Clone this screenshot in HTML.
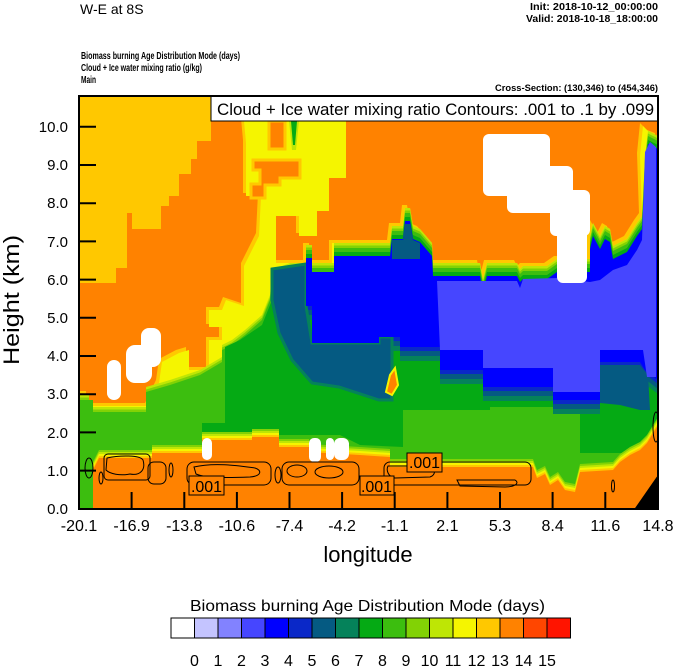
<!DOCTYPE html>
<html><head><meta charset="utf-8"><style>
html,body{margin:0;padding:0;background:#fff;}
svg{display:block;font-family:"Liberation Sans",sans-serif;}
</style></head><body>
<svg width="674" height="667" viewBox="0 0 674 667" xmlns="http://www.w3.org/2000/svg">
<defs>
<clipPath id="pc"><rect x="79" y="96" width="579" height="413"/></clipPath>
<polygon id="p12" points="79,394 89,394 89,406 148,406 159,383 162,362 179,353 189,350 189,370 209,370 209,340 222,340 222,327 209,327 209,310 222,310 226,300 244,306 244,266 259,236 261,196 246,196 246,143 244,121 346,121 346,178 329,178 329,211 317,211 317,236 299,236 299,216 276,216 276,263 306,263 306,246 312,246 312,263 332,263 332,243 390,243 392,226 403,226 405,208 410,208 413,226 420,229 432,243 433,263 480,263 483,279 487,263 517,263 520,269 523,266 547,266 557,259 590,259 590,236 593,223 600,236 605,226 610,229 613,246 627,239 637,223 642,216 640,156 643,126 650,133 658,136 658,509 79,509"/>
<polygon id="p9" points="79,400 89,400 89,412 146,412 146,392 170,385 200,375 222,362 222,350 232,345 245,335 262,320 270,300 272,275 290,268 306,268 306,250 312,250 312,268 334,268 334,248 390,248 392,231 403,231 405,213 410,213 413,231 420,234 432,248 433,268 480,268 483,284 487,268 517,268 520,274 523,271 547,271 557,264 590,264 590,241 593,228 600,241 605,231 610,234 613,251 627,244 637,228 642,221 645,161 648,136 658,141 658,509 79,509"/>
<polygon id="p4" points="306,258 312,258 312,272 334,272 334,256 390,256 392,239 403,239 405,221 410,221 413,239 420,242 432,256 433,276 480,276 483,292 487,276 517,276 520,282 523,279 547,279 557,272 590,272 590,249 593,236 600,249 605,239 610,242 613,259 627,252 637,236 642,229 645,169 648,144 658,149 658,380 645,370 640,362 600,362 600,400 553,400 553,387 483,387 483,370 440,370 440,347 400,347 400,337 379,337 379,343 312,343 312,306 306,306"/>
<polygon id="pb" points="93,520 93,470 99,458 152,458 152,453 202,453 202,440 252,440 252,437 279,437 279,447 309,447 309,452 360,455 390,457 390,467 533,467 537,478 545,474 550,485 558,480 565,490 575,492 580,472 613,470 620,462 630,455 640,450 647,443 655,430 658,425 670,425 670,520"/>
</defs>
<g clip-path="url(#pc)">
<rect x="79" y="96" width="579" height="413" fill="#ff8200"/>
<polygon fill="#ffc800" points="79,96 211,96 211,141 197,141 197,159 191,159 191,174 179,174 179,196 169,196 169,206 161,206 161,229 132,229 132,213 127,213 127,268 116,268 116,283 79,283"/>
<use href="#p12" fill="#ffc800" transform="translate(-3,-3)"/>
<use href="#p12" fill="#f5f500"/>
<polygon fill="#ff8200" stroke="#ffc800" stroke-width="3" points="269,121 285,121 285,149 269,149"/>
<polygon fill="#ff8200" stroke="#ffc800" stroke-width="3" points="253,160 300,160 300,178 280,178 280,185 265,185 265,198 251,198 251,184 260,184 260,170 253,170"/>
<polygon fill="#bee605" points="289,121 299,121 296,150 292,150"/>
<polygon fill="#05aa14" points="291,121 297,121 295,145 293,145"/>
<use href="#p9" fill="#bee605" transform="translate(0,-5)"/>
<use href="#p9" fill="#82d205" transform="translate(0,-2.5)"/>
<use href="#p9" fill="#3cbe0f"/>
<polygon fill="#05aa14" points="225,347 240,340 262,325 272,300 272,279 290,272 306,272 306,254 312,254 312,272 334,272 334,252 390,252 392,235 403,235 405,217 410,217 413,235 420,238 432,252 433,272 480,272 483,288 487,272 517,272 520,278 523,275 547,275 557,268 590,268 590,245 593,232 600,245 605,235 610,238 613,255 627,248 637,232 642,225 645,165 648,140 658,145 658,443 640,453 580,453 580,407 490,407 490,410 403,410 403,447 360,445 340,435 279,435 252,440 202,440 202,423 225,423"/>
<use href="#p4" fill="#05825a" transform="translate(0,14)"/>
<use href="#p4" fill="#055a82" transform="translate(0,9)"/>
<use href="#p4" fill="#0a28c8" transform="translate(0,4)"/>
<polygon fill="#055a82" stroke="#05825a" stroke-width="3" points="272,269 306,264 306,306 312,343 379,343 379,337 392,337 392,400 379,400 339,387 312,383 292,360 279,333 272,300"/>
<use href="#p4" fill="#0000ff"/>
<polygon fill="#055a82" points="392,240 403,240 405,224 410,224 413,240 420,243 420,259 392,259"/>
<polygon fill="#055a82" points="600,365 640,365 648,375 650,410 640,410 620,405 600,403"/>
<polygon fill="#4646ff" points="437,281 517,281 520,288 523,279 557,278 590,282 600,280 613,270 627,265 637,250 642,240 645,152 650,142 656,147 656,377 647,377 643,350 600,350 600,392 553,392 553,368 483,368 483,350 440,350"/>
<polygon fill="#ff8200" stroke="#f5f500" stroke-width="2" points="390,375 395,368 398,385 392,395 386,392"/>
<use href="#pb" fill="#82d205" transform="translate(0,-8)"/>
<use href="#pb" fill="#bee605" transform="translate(0,-6)"/>
<use href="#pb" fill="#f5f500" transform="translate(0,-4)"/>
<use href="#pb" fill="#ffc800" transform="translate(0,-2)"/>
<use href="#pb" fill="#ff8200"/>
<polygon fill="#3cbe0f" points="79,400 93,400 93,520 79,520"/>
<g fill="#fff">
<rect x="107" y="360" width="14" height="40" rx="7"/>
<rect x="126" y="345" width="26" height="38" rx="9"/>
<rect x="141" y="328" width="20" height="39" rx="8"/>
<rect x="202" y="438" width="10" height="22" rx="5"/>
<rect x="309" y="438" width="12" height="24" rx="5"/>
<rect x="326" y="438" width="8" height="22" rx="4"/>
<rect x="334" y="438" width="15" height="22" rx="6"/>
<rect x="483" y="134" width="67" height="62" rx="6"/>
<rect x="507" y="166" width="66" height="47" rx="6"/>
<rect x="550" y="190" width="40" height="46" rx="6"/>
<rect x="557" y="225" width="30" height="58" rx="6"/>
</g>
<polygon fill="#000" points="633,511 658,475 658,511"/>
<g fill="none" stroke="#000" stroke-width="1">
<rect x="104" y="454" width="46" height="26" rx="4"/>
<path d="M107,458 C120,455 140,455 143,460 C146,470 140,476 130,474 C120,476 110,474 106,470 Z"/>
<rect x="148" y="462" width="18" height="22" rx="6"/>
<ellipse cx="171" cy="470" rx="2" ry="7"/>
<rect x="187" y="462" width="84" height="23" rx="7"/>
<path d="M194,467 C215,462 240,466 255,468 C262,470 262,476 250,477 C225,478 205,478 196,474 Z"/>
<ellipse cx="278" cy="475" rx="3" ry="8"/>
<rect x="282" y="462" width="77" height="23" rx="7"/>
<ellipse cx="297" cy="471" rx="10" ry="6"/>
<ellipse cx="329" cy="472" rx="14" ry="6"/>
<rect x="384" y="462" width="147" height="23" rx="6"/>
<path d="M388,466 L430,466 C436,468 436,475 430,477 L395,478 C388,477 386,470 388,466 Z"/>
<path d="M457,480 L515,480 C520,483 515,487 505,487 L460,486 Z"/>
<ellipse cx="101" cy="478" rx="2" ry="6"/>
<ellipse cx="89" cy="468" rx="4" ry="10"/>
<ellipse cx="613" cy="486" rx="1.5" ry="6"/>
<ellipse cx="656" cy="427" rx="3" ry="15"/>
</g>
<g fill="#ff8200" stroke="#000" stroke-width="1">
<rect x="189" y="476" width="35" height="19"/>
<rect x="360" y="476" width="34" height="19"/>
<rect x="407" y="453" width="35" height="19"/>
</g>
<g font-size="16" fill="#000">
<text x="191" y="492" textLength="31">.001</text>
<text x="361" y="492" textLength="31">.001</text>
<text x="409" y="468" textLength="31">.001</text>
</g>
<g stroke="#000" stroke-width="2">
<line x1="79" y1="126.8" x2="96" y2="126.8"/><line x1="79" y1="165" x2="96" y2="165"/>
<line x1="79" y1="203.2" x2="96" y2="203.2"/><line x1="79" y1="241.4" x2="96" y2="241.4"/>
<line x1="79" y1="279.6" x2="96" y2="279.6"/><line x1="79" y1="317.8" x2="96" y2="317.8"/>
<line x1="79" y1="356" x2="96" y2="356"/><line x1="79" y1="394.2" x2="96" y2="394.2"/>
<line x1="79" y1="432.4" x2="96" y2="432.4"/><line x1="79" y1="470.6" x2="96" y2="470.6"/>
<line x1="131.6" y1="509" x2="131.6" y2="492"/><line x1="184.3" y1="509" x2="184.3" y2="492"/>
<line x1="236.9" y1="509" x2="236.9" y2="492"/><line x1="289.5" y1="509" x2="289.5" y2="492"/>
<line x1="342.1" y1="509" x2="342.1" y2="492"/><line x1="394.7" y1="509" x2="394.7" y2="492"/>
<line x1="447.4" y1="509" x2="447.4" y2="492"/><line x1="500" y1="509" x2="500" y2="492"/>
<line x1="552.6" y1="509" x2="552.6" y2="492"/><line x1="605.3" y1="509" x2="605.3" y2="492"/>
</g>
</g>
<rect x="211" y="96" width="447" height="25" fill="#fff" stroke="#000" stroke-width="1"/>
<text x="217" y="115" font-size="17" textLength="437" lengthAdjust="spacingAndGlyphs">Cloud + Ice water mixing ratio Contours: .001 to .1 by .099</text>
<rect x="79" y="96" width="579" height="413" fill="none" stroke="#000" stroke-width="2"/>
<text x="80" y="14" font-size="14">W-E at 8S</text>
<g font-size="10" font-weight="bold" text-anchor="end">
<text x="658" y="10" textLength="128" lengthAdjust="spacingAndGlyphs">Init: 2018-10-12_00:00:00</text>
<text x="658" y="22" textLength="132" lengthAdjust="spacingAndGlyphs">Valid: 2018-10-18_18:00:00</text>
<text x="658" y="91" font-size="9" textLength="163" lengthAdjust="spacingAndGlyphs">Cross-Section: (130,346) to (454,346)</text>
</g>
<g font-size="10" font-weight="bold">
<text x="81" y="59" textLength="159" lengthAdjust="spacingAndGlyphs">Biomass burning Age Distribution Mode   (days)</text>
<text x="81" y="71" textLength="121" lengthAdjust="spacingAndGlyphs">Cloud + Ice water mixing ratio   (g/kg)</text>
<text x="81" y="83" textLength="15" lengthAdjust="spacingAndGlyphs">Main</text>
</g>
<g font-size="15" text-anchor="end">
<text x="68" y="132">10.0</text><text x="68" y="170">9.0</text><text x="68" y="208">8.0</text>
<text x="68" y="247">7.0</text><text x="68" y="285">6.0</text><text x="68" y="323">5.0</text>
<text x="68" y="361">4.0</text><text x="68" y="399">3.0</text><text x="68" y="438">2.0</text>
<text x="68" y="476">1.0</text><text x="68" y="514">0.0</text>
</g>
<text transform="translate(19,300) rotate(-90)" font-size="22" text-anchor="middle" textLength="130" lengthAdjust="spacingAndGlyphs">Height (km)</text>
<g font-size="16" text-anchor="middle">
<text x="79" y="531">-20.1</text><text x="131.6" y="531">-16.9</text><text x="184.3" y="531">-13.8</text>
<text x="236.9" y="531">-10.6</text><text x="289.5" y="531">-7.4</text><text x="342.1" y="531">-4.2</text>
<text x="394.7" y="531">-1.1</text><text x="447.4" y="531">2.1</text><text x="500" y="531">5.3</text>
<text x="552.6" y="531">8.4</text><text x="605.3" y="531">11.6</text><text x="658" y="531">14.8</text>
</g>
<text x="368" y="562" font-size="22" text-anchor="middle">longitude</text>
<text x="190" y="611" font-size="16" textLength="355" lengthAdjust="spacingAndGlyphs">Biomass burning Age Distribution Mode  (days)</text>
<g stroke="#000" stroke-width="1">
<rect x="171" y="618" width="23.5" height="20" fill="#ffffff"/>
<rect x="194.5" y="618" width="23.5" height="20" fill="#c4c4ff"/>
<rect x="218" y="618" width="23.5" height="20" fill="#8282ff"/>
<rect x="241.5" y="618" width="23.5" height="20" fill="#4646ff"/>
<rect x="265" y="618" width="23.5" height="20" fill="#0000ff"/>
<rect x="288.5" y="618" width="23.5" height="20" fill="#0a28c8"/>
<rect x="312" y="618" width="23.5" height="20" fill="#055a82"/>
<rect x="335.5" y="618" width="23.5" height="20" fill="#05825a"/>
<rect x="359" y="618" width="23.5" height="20" fill="#05aa14"/>
<rect x="382.5" y="618" width="23.5" height="20" fill="#3cbe0f"/>
<rect x="406" y="618" width="23.5" height="20" fill="#82d205"/>
<rect x="429.5" y="618" width="23.5" height="20" fill="#bee605"/>
<rect x="453" y="618" width="23.5" height="20" fill="#f5f500"/>
<rect x="476.5" y="618" width="23.5" height="20" fill="#ffc800"/>
<rect x="500" y="618" width="23.5" height="20" fill="#ff8200"/>
<rect x="523.5" y="618" width="23.5" height="20" fill="#ff4600"/>
<rect x="547" y="618" width="23.5" height="20" fill="#ff1400"/>
</g>
<g font-size="16" text-anchor="middle">
<text x="194.5" y="666">0</text><text x="218" y="666">1</text><text x="241.5" y="666">2</text>
<text x="265" y="666">3</text><text x="288.5" y="666">4</text><text x="312" y="666">5</text>
<text x="335.5" y="666">6</text><text x="359" y="666">7</text><text x="382.5" y="666">8</text>
<text x="406" y="666">9</text><text x="429.5" y="666">10</text><text x="453" y="666">11</text>
<text x="476.5" y="666">12</text><text x="500" y="666">13</text><text x="523.5" y="666">14</text>
<text x="547" y="666">15</text>
</g>
</svg>
</body></html>
